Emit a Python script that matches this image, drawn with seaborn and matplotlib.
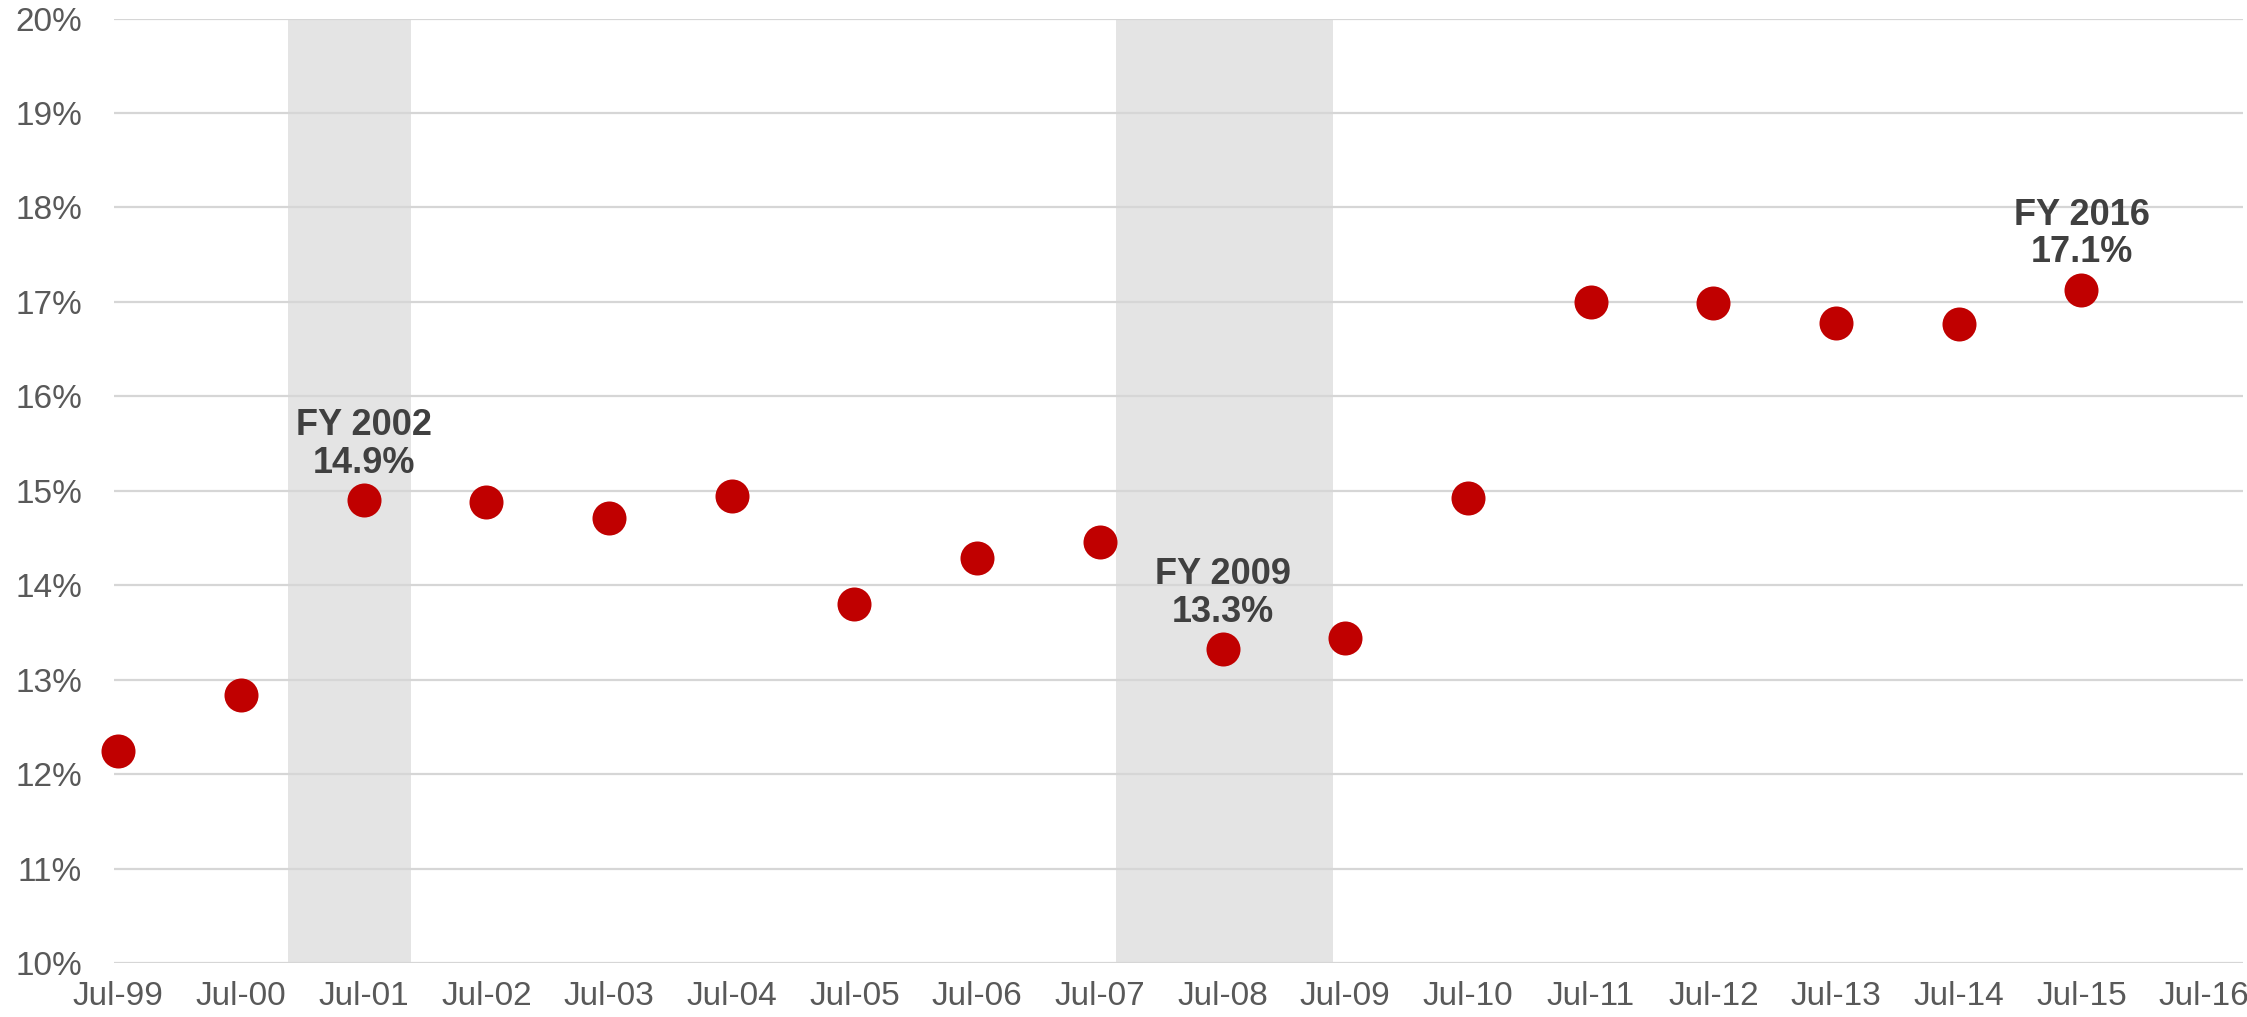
import matplotlib
matplotlib.use("Agg")
import matplotlib.pyplot as plt
import seaborn as sns
import pandas as pd

# ==========================
# DATA
# ==========================

fiscal_years = [1999, 2000, 2001, 2002, 2003, 2004, 2005, 2006, 2007,
                2008, 2009, 2010, 2011, 2012, 2013, 2014, 2015]

share_pct = [12.24, 12.84, 14.90, 14.88, 14.71, 14.94, 13.80, 14.29, 14.46,
             13.32, 13.44, 14.92, 17.00, 16.99, 16.78, 16.77, 17.13]

tick_years = list(range(1999, 2017))
tick_labels = ["Jul-%02d" % (y % 100) for y in tick_years]

y_ticks = list(range(10, 21))
y_labels = ["%d%%" % v for v in y_ticks]

# recession periods (decimal years)
recession_start = [2000.88, 2007.63]
recession_end = [2001.89, 2009.40]

# labelled points
label_years = [2001, 2008, 2015]
label_texts = ["FY 2002\n14.9%", "FY 2009\n13.3%", "FY 2016\n17.1%"]

# ==========================
# STYLE
# ==========================

sns.set_style("white")
plt.rcParams["font.family"] = ["Liberation Sans", "DejaVu Sans"]

df = pd.DataFrame({"x": [y + 0.5 for y in fiscal_years], "Share": share_pct})

fig = plt.figure(figsize=(22.47, 10.17), dpi=100)
ax = fig.add_axes([0.0507, 0.0531, 0.9475, 0.9286])

# ==========================
# RECESSION BANDS
# ==========================

for start, end in zip(recession_start, recession_end):
    ax.axvspan(start, end, color="#E4E4E4", lw=0, zorder=0)

# ==========================
# SCATTER
# ==========================

sns.scatterplot(
    data=df,
    x="x",
    y="Share",
    s=600,
    color="#C00000",
    linewidth=0,
    ax=ax,
    zorder=3,
    clip_on=False
)

# ==========================
# LABELS
# ==========================

for yr, txt in zip(label_years, label_texts):
    val = share_pct[fiscal_years.index(yr)]
    ax.annotate(
        txt,
        xy=(yr + 0.5, val),
        xytext=(0, 14),
        textcoords="offset points",
        ha="center",
        va="bottom",
        fontsize=26,
        fontweight="bold",
        color="#404040",
        linespacing=1.1,
        zorder=4
    )

# ==========================
# AXES
# ==========================

ax.set_xlim(1999.465, 2016.816)
ax.set_ylim(10, 20)

ax.set_xticks([y + 0.5 for y in tick_years])
ax.set_xticklabels(tick_labels)
ax.set_yticks(y_ticks)
ax.set_yticklabels(y_labels)

ax.tick_params(axis="x", length=0, pad=13, labelsize=24, labelcolor="#595959")
ax.tick_params(axis="y", length=0, pad=23, labelsize=24, labelcolor="#595959")

ax.grid(axis="y", color="#D6D6D6", linewidth=1.6, zorder=1)
ax.set_axisbelow(True)

ax.set_xlabel("")
ax.set_ylabel("")

for side in ["top", "right", "bottom", "left"]:
    ax.spines[side].set_visible(False)

plt.savefig("out.png", dpi=100)
plt.close()
